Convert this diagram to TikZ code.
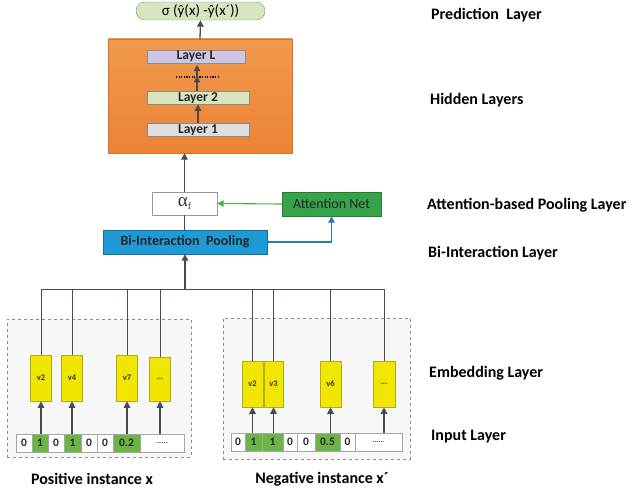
\documentclass[tikz,border=0pt]{standalone}
\usepackage{fontspec}
\setmainfont{Carlito}
\newfontfamily\grkserif{Liberation Serif}
\usetikzlibrary{arrows.meta,shapes.misc}
\definecolor{orangeA}{HTML}{F29A4C}
\definecolor{orangeB}{HTML}{EC8234}
\definecolor{lavender}{HTML}{CEC6E4}
\definecolor{lgreen}{HTML}{D8E5BF}
\definecolor{lgray}{HTML}{DEDEDE}
\definecolor{attgreen}{HTML}{36A24A}
\definecolor{biblue}{HTML}{1E9AD6}
\definecolor{vyellow}{HTML}{F1E600}
\definecolor{vborder}{HTML}{B3AA20}
\definecolor{cellgreen}{HTML}{6DB446}
\definecolor{busc}{HTML}{554848}
\definecolor{arrowc}{HTML}{4A4A4A}
\definecolor{blueline}{HTML}{2E75C0}
\definecolor{greenline}{HTML}{3DB54A}
\tikzset{
  arr/.style={draw=arrowc,line width=1.3pt,-{Triangle[width=6.5pt,length=6.5pt]}},
  busline/.style={draw=busc,line width=1pt},
  layerbox/.style={draw=black!45,line width=0.5pt,inner sep=0pt,font=\bfseries\fontsize{13.5}{13.5}\selectfont,text=black!85},
  vecbox/.style={draw=vborder,fill=vyellow,line width=0.6pt,inner sep=0pt,minimum width=21pt,minimum height=46pt,font=\bfseries\fontsize{8.5}{8.5}\selectfont,text=black!80},
  cell/.style={draw=black!35,fill=white,line width=0.5pt,inner sep=0pt,minimum height=17.5pt,font=\bfseries\fontsize{11.5}{11.5}\selectfont,text=black!85},
  gcell/.style={cell,fill=cellgreen},
  instbox/.style={draw=black!45,dashed,fill=black!3,line width=0.5pt,inner sep=0pt},
  sidelabel/.style={anchor=west,inner sep=0pt,font=\bfseries\fontsize{16}{16}\selectfont},
}
\begin{document}
\begin{tikzpicture}[x=1pt,y=-1pt]
\useasboundingbox (0,0) rectangle (635,492);
% ---------- top part
\node[draw=black!45,fill=lgreen,rounded rectangle,inner sep=0pt,minimum width=129pt,minimum height=18pt,font=\fontsize{15}{15}\selectfont] (pred) at (200.5,11) {σ (ŷ(x) -ŷ(x´))};
\node[draw=orangeB!90!black,top color=orangeA,bottom color=orangeB,line width=0.4pt,inner sep=0pt,minimum width=184pt,minimum height=114pt] (hidden) at (200,96) {};
\node[layerbox,fill=lavender,minimum width=98pt,minimum height=13pt] (LL) at (196,56.5) {Layer L};
\node[layerbox,fill=lgreen,minimum width=102pt,minimum height=12.5pt] (L2) at (198,98) {Layer 2};
\node[layerbox,fill=lgray,minimum width=102pt,minimum height=12.5pt] (L1) at (198,130) {Layer 1};
\coordinate (dotl) at (176,77);
\coordinate (dotr) at (218,77);
\coordinate (dotc) at (197,77);
\draw[black,line width=1.1pt,dash pattern=on 1.2pt off 1.4pt] (dotl) -- (dotr);
\draw[arr] (L1.north) -- (L2.south);
\draw[arr,shorten >=1pt] (L2.north -| dotc) -- ([yshift=2pt]dotc);
\draw[arr,shorten >=1.5pt] ([yshift=-1.5pt]dotc) -- (LL.south -| dotc);
\draw[arr] (hidden.north) -- (pred.south);
% ---------- attention
\node[draw=black!40,fill=white,inner sep=0pt,minimum width=65pt,minimum height=23pt,font=\grkserif\fontsize{19}{19}\selectfont,text=black!80] (af) at (184.5,203.5) {α\raisebox{-0.35ex}{\fontsize{10}{10}\selectfont f}};
\node[draw=attgreen!75!black,fill=attgreen,inner sep=0pt,minimum width=99pt,minimum height=24pt,font=\fontsize{14}{14}\selectfont,text=black!85] (att) at (331.5,204) {Attention Net};
\node[draw=biblue!70!black,fill=biblue,inner sep=0pt,minimum width=164pt,minimum height=24pt,font=\bfseries\fontsize{14}{14}\selectfont,text=black!85] (bi) at (185,242) {Bi-Interaction\ \ Pooling};
\draw[arr] (af.north) -- (af.north |- hidden.south);
\draw[draw=arrowc,line width=1.1pt] (bi.north -| af.south) -- (af.south);
\draw[draw=greenline,line width=1.1pt,-{Triangle[width=6.5pt,length=6.5pt]}] (att.west) -- (af.east);
\draw[draw=blueline,line width=1.1pt,-{Triangle[width=6.5pt,length=6.5pt]}] (bi.east) -| (att.south);
% ---------- instance boxes
\node[instbox,minimum width=184pt,minimum height=138pt] (posbox) at (99,388) {};
\node[instbox,minimum width=187pt,minimum height=141pt] (negbox) at (316.5,388.5) {};
% left vectors
\node[vecbox] (va2) at (41,378) {v2};
\node[vecbox] (va4) at (72,378) {v4};
\node[vecbox] (va7) at (127,378) {v7};
\node[vecbox,minimum height=44pt] (vad) at (160,379) {...};
% right vectors
\node[vecbox] (vb2) at (252.5,384) {v2};
\node[vecbox,minimum width=19pt] (vb3) at (273.5,384) {v3};
\node[vecbox] (vb6) at (330.5,384) {v6};
\node[vecbox,minimum width=22pt] (vbd) at (384,384) {...};
% left input cells
\node[cell,minimum width=16pt] (ca1) at (24,443) {0};
\node[gcell,minimum width=16pt] (ca2) at (40,443) {1};
\node[cell,minimum width=16pt] (ca3) at (56,443) {0};
\node[gcell,minimum width=17pt] (ca4) at (72.5,443) {1};
\node[cell,minimum width=16pt] (ca5) at (89,443) {0};
\node[cell,minimum width=16pt] (ca6) at (105,443) {0};
\node[gcell,minimum width=27pt] (ca7) at (126.5,443) {0.2};
\node[cell,minimum width=44pt,font=\bfseries\fontsize{7}{7}\selectfont] (ca8) at (162,443) {......};
% right input cells
\node[cell,minimum width=14pt] (cb1) at (238,442) {0};
\node[gcell,minimum width=17pt] (cb2) at (253.5,442) {1};
\node[gcell,minimum width=21pt] (cb3) at (272.5,442) {1};
\node[cell,minimum width=14pt] (cb4) at (290,442) {0};
\node[cell,minimum width=18pt] (cb5) at (306,442) {0};
\node[gcell,minimum width=25pt] (cb6) at (327.5,442) {0.5};
\node[cell,minimum width=15pt] (cb7) at (347.5,442) {0};
\node[cell,minimum width=47pt,font=\bfseries\fontsize{7}{7}\selectfont] (cb8) at (378.5,442) {......};
% arrows input -> vectors
\foreach \c/\v in {ca2/va2,ca4/va4,ca7/va7,ca8/vad,cb2/vb2,cb3/vb3,cb6/vb6,cb8/vbd}
  \draw[arr] (\v.south |- \c.north) -- (\v.south);
% bus
\coordinate (busy) at (0,289);
\draw[busline] (va2.north |- busy) -- (vbd.north |- busy);
\foreach \v in {va2,va4,va7,vad,vb2,vb3,vb6,vbd}
  \draw[busline] (\v.north |- busy) -- (\v.north);
\draw[arr] (bi.south |- busy) -- (bi.south);
% ---------- labels
\node[anchor=center,inner sep=0pt,font=\bfseries\fontsize{16}{16}\selectfont] (poslab) at (92,479) {Positive instance x};
\node[anchor=center,inner sep=0pt,font=\bfseries\fontsize{16}{16}\selectfont] (neglab) at (322,479) {Negative instance x´};
\node[sidelabel] (lp) at (431,15) {Prediction\ \ Layer};
\node[sidelabel] (lh) at (430,100) {Hidden Layers};
\node[sidelabel] (la) at (427,205) {Attention-based Pooling Layer};
\node[sidelabel] (lb) at (428,253) {Bi-Interaction Layer};
\node[sidelabel] (le) at (429,373) {Embedding Layer};
\node[sidelabel] (li) at (431,437) {Input Layer};
\end{tikzpicture}
\end{document}
